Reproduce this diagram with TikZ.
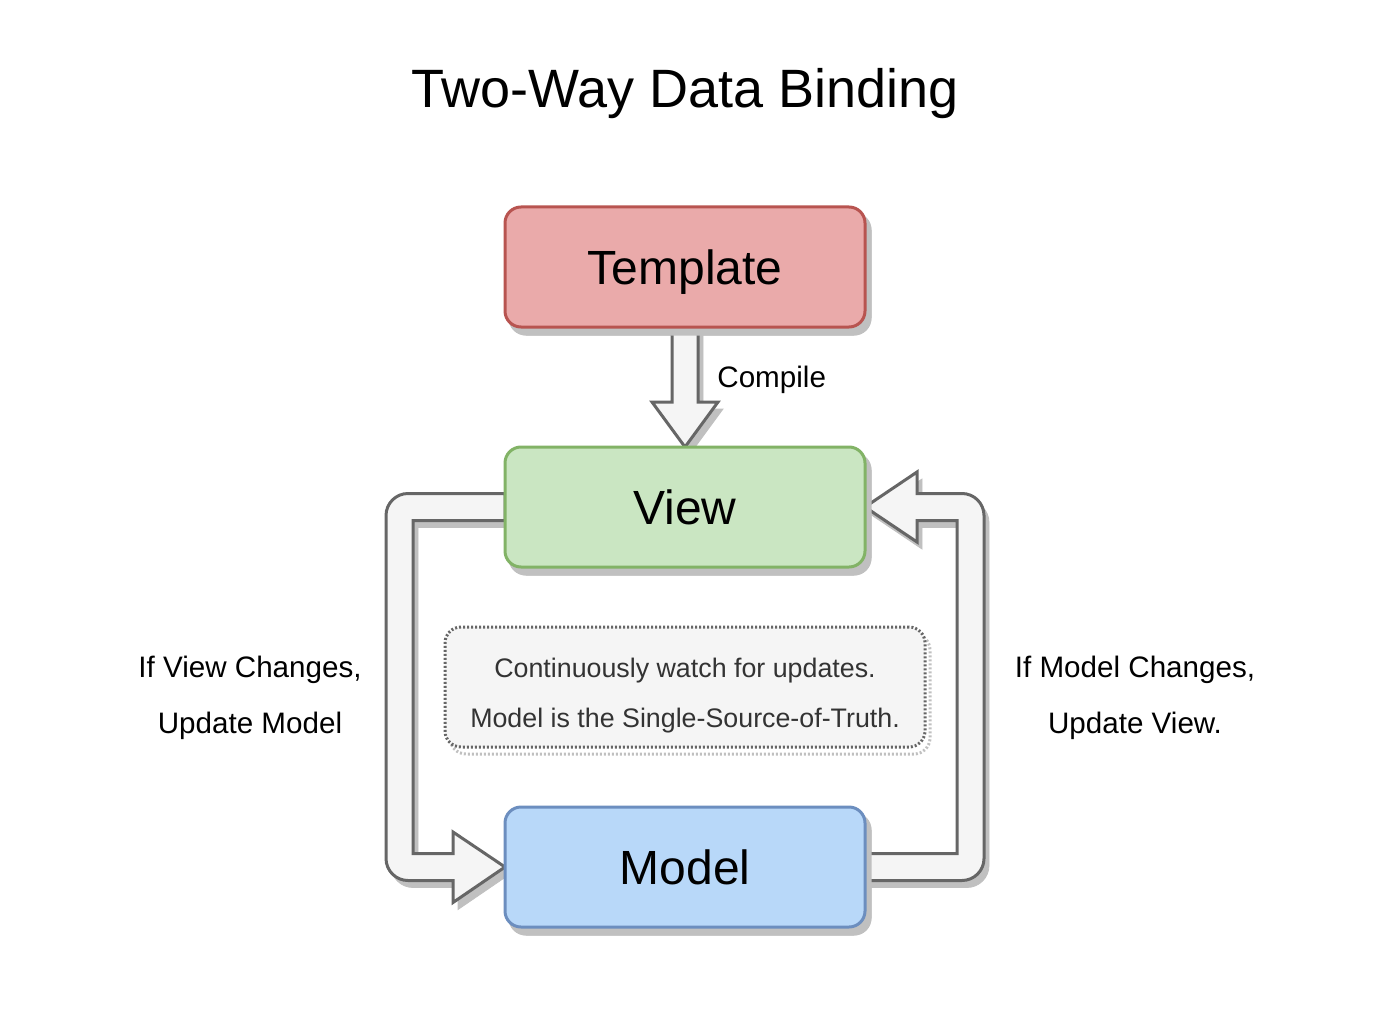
\documentclass[tikz,border=0pt]{standalone}
\usepackage{fontspec}
\setmainfont{Liberation Sans}
\usetikzlibrary{calc}
\definecolor{tplfill}{RGB}{234,170,170}
\definecolor{tpldraw}{RGB}{184,84,80}
\definecolor{viewfill}{RGB}{202,230,194}
\definecolor{viewdraw}{RGB}{130,179,102}
\definecolor{modelfill}{RGB}{184,216,249}
\definecolor{modeldraw}{RGB}{108,142,191}
\definecolor{arrowfill}{RGB}{245,245,245}
\definecolor{arrowdraw}{RGB}{102,102,102}
\definecolor{shadowgray}{RGB}{192,192,192}
\definecolor{notetext}{RGB}{51,51,51}

\begin{document}
\begin{tikzpicture}[x=0.5pt, y=-0.5pt,
    boxshadow/.style={preaction={fill=shadowgray, draw=shadowgray, transform canvas={xshift=2.5pt, yshift=-3.5pt}}},
    box/.style={boxshadow, rectangle, rounded corners=8pt, line width=1.5pt, minimum width=180pt, minimum height=60pt, outer sep=0pt, text height=17.2pt, text depth=0pt, font=\fontsize{24}{28}\selectfont},
    note/.style={rectangle, rounded corners=8pt, fill=arrowfill, draw=arrowdraw, line width=1.5pt, dash pattern=on 1pt off 1pt, minimum width=240pt, minimum height=60pt, preaction={draw=shadowgray, transform canvas={xshift=2.5pt, yshift=-3.5pt}}},
    notetxt/.style={align=center, text=notetext, font=\fontsize{13.4}{25}\selectfont},
    bigarrow/.style={boxshadow, fill=arrowfill, draw=arrowdraw, line width=1.5pt},
    lbl/.style={align=center, font=\fontsize{14.8}{28}\selectfont}]
    \useasboundingbox (0,0) rectangle (1395,1016);

    % Title
    \node[font=\fontsize{27}{32}\selectfont] (title) at (685,94) {Two-Way Data Binding};

    % Places of the three boxes (filled in after the arrows)
    \path (685,267) node[box, draw=none, preaction={}] (tpl) {}
          (685,507) node[box, draw=none, preaction={}] (view) {}
          (685,867) node[box, draw=none, preaction={}] (model) {};

    % Compile arrow
    \draw[bigarrow] ($(tpl.south)+(-13,0)$) -- ($(view.north)+(-13,-45)$) -- ++(-20,0) -- (view.north)
        -- ($(view.north)+(33,-45)$) -- ++(-20,0) -- ($(tpl.south)+(13,0)$) -- cycle;
    \node[anchor=west, inner sep=0pt, font=\fontsize{14.8}{18}\selectfont] (lblc) at (717,380) {Compile};

    % View -> Model
    \draw[bigarrow] ($(view.west)+(0,-13.5)$) -- ($(view.west)+(-97,-13.5)$)
        arc[start angle=270, end angle=180, radius=22] -- ($(model.west)+(-119,-8.5)$)
        arc[start angle=180, end angle=90, radius=22] -- ($(model.west)+(-52,13.5)$) -- ++(0,22)
        -- (model.west) -- ++(-52,-35) -- ++(0,21.5) -- ($(model.west)+(-92,-13.5)$)
        -- ($(view.west)+(-92,13.5)$) -- ($(view.west)+(0,13.5)$) -- cycle;
    \node[lbl] (lblv) at (250,698) {If View Changes,\\Update Model};

    % Model -> View
    \draw[bigarrow] ($(model.east)+(0,-13.5)$) -- ($(model.east)+(92,-13.5)$) -- ($(view.east)+(92,13.5)$)
        -- ($(view.east)+(52,13.5)$) -- ++(0,21.5) -- (view.east) -- ++(52,-35) -- ++(0,21.5)
        -- ($(view.east)+(97,-13.5)$) arc[start angle=270, end angle=360, radius=22]
        -- ($(model.east)+(119,-8.5)$) arc[start angle=0, end angle=90, radius=22]
        -- ($(model.east)+(0,13.5)$) -- cycle;
    \node[lbl] (lblm) at (1135,698) {If Model Changes,\\Update View.};

    % Boxes
    \node[box, fill=tplfill, draw=tpldraw] at (tpl) {Template};
    \node[box, fill=viewfill, draw=viewdraw] at (view) {View};
    \node[box, fill=modelfill, draw=modeldraw] at (model) {Model};

    % Note in the middle
    \node[note] (note) at (685,687) {};
    \node[notetxt] (notetxt) at (685,696) {Continuously watch for updates.\\Model is the Single-Source-of-Truth.};
\end{tikzpicture}
\end{document}
